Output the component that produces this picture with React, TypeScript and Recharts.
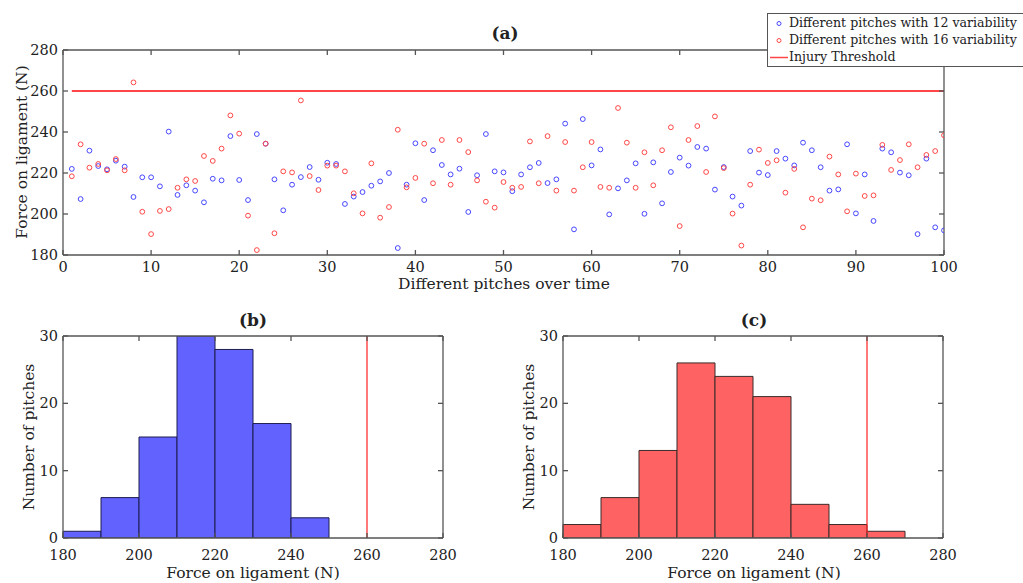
import React from "react";
import {
  ComposedChart,
  Scatter,
  Bar,
  Line,
  XAxis,
  YAxis,
  ReferenceLine,
} from "recharts";

// force per pitch (N)
const pitches12 = [
  222, 207.3, 230.9, 223.4, 221.8, 226, 223.1, 208.3, 217.9, 217.9,
  213.5, 240.2, 209.3, 214, 211.4, 205.7, 217.2, 216.4, 238, 216.6,
  206.8, 239, 234.3, 216.9, 201.8, 214.3, 218, 222.9, 216.7, 225,
  224.4, 204.9, 208.5, 210.7, 213.8, 215.9, 220, 183.4, 214.3, 234.5,
  206.8, 231.1, 223.9, 219.3, 222.1, 201, 218.9, 239, 220.8, 220.3,
  211.1, 219.3, 222.8, 224.9, 215.1, 216.9, 244.1, 192.5, 246.3, 223.7,
  231.5, 199.8, 212.5, 216.4, 224.7, 200.1, 225.2, 205.2, 220.5, 227.5,
  223.6, 232.7, 231.9, 211.9, 222.9, 208.5, 204.1, 230.7, 220.2, 219,
  230.7, 227, 223.7, 234.8, 231.1, 222.8, 211.4, 212, 234, 200.3,
  219.3, 196.6, 231.9, 230.1, 220.2, 218.9, 190.2, 227, 193.5, 192,
];

const pitches16 = [
  218.4, 234, 222.6, 224.4, 221.3, 226.8, 221.3, 264.2, 201.1, 190.2,
  201.5, 202.4, 212.8, 216.9, 216.1, 228.3, 225.9, 231.9, 248.1, 239.2,
  199.2, 182.4, 234.3, 190.6, 220.8, 220.3, 255.4, 218.5, 211.7, 223.6,
  223.6, 220.8, 210.1, 200.3, 224.7, 198.2, 203.4, 241.1, 213, 217.6,
  234.3, 215, 236.1, 214.3, 236.1, 230.2, 216.4, 206, 203.1, 215.6,
  212.8, 213.2, 235.4, 215, 238, 211.4, 235.1, 211.4, 222.8, 235.1,
  213.2, 212.8, 251.7, 234.8, 212.8, 230.1, 214, 231.1, 242.3, 194.1,
  236.1, 242.9, 220.5, 247.6, 222.4, 200.2, 184.6, 214.3, 231.4, 224.9,
  226.2, 210.4, 222, 193.5, 207.5, 206.7, 228, 219.3, 201.3, 219.7,
  208.8, 209.1, 233.7, 221.5, 226.3, 234, 222.8, 228.8, 230.7, 238.4,
];

const threshold = 260;
const thresholdFrom = 1;
const thresholdTo = 100;

// histogram bins (lower edges, N) and counts
const binStarts = [180, 190, 200, 210, 220, 230, 240, 250, 260, 270];
const binWidth = 10;
const counts12 = [1, 6, 15, 30, 28, 17, 3, 0, 0, 0];
const counts16 = [2, 6, 13, 26, 24, 21, 5, 2, 1, 0];

const pitchTicks = [0, 10, 20, 30, 40, 50, 60, 70, 80, 90, 100];
const forceTicks = [180, 200, 220, 240, 260, 280];
const histTicks = [180, 200, 220, 240, 260, 280];
const countTicks = [0, 10, 20, 30];

const FONT = "'DejaVu Serif', serif";
const INK = "#222";
const AXIS = "#555";
const BLUE = "#4646ff";
const RED = "#ff4646";

const tickStyle = { fill: INK, fontSize: 14.5, fontFamily: FONT };
const axisLine = { stroke: AXIS, strokeWidth: 1.3 };
const tickLine = { stroke: AXIS, strokeWidth: 1.3 };
const noLabel = () => "";

const blueData = pitches12.map((v, i) => ({ x: i + 1, y: v }));
const redData = pitches16.map((v, i) => ({ x: i + 1, y: v }));

const ring = (color: string) => (p: any) =>
  <circle cx={p.cx} cy={p.cy} r={2.4} fill="none" stroke={color} strokeWidth={1} />;
const nothing = () => <g />;

function Text(props: { x: number; y: number; text: string; bold?: boolean; rotate?: boolean; size?: number }) {
  const { x, y, text, bold, rotate, size = 15.5 } = props;
  return (
    <div
      style={{
        position: "absolute",
        left: x,
        top: y,
        transform: `translate(-50%, -50%)${rotate ? " rotate(-90deg)" : ""}`,
        whiteSpace: "nowrap",
        fontFamily: FONT,
        fontSize: size,
        fontWeight: bold ? "bold" : "normal",
        color: INK,
        lineHeight: 1,
      }}
    >
      {text}
    </div>
  );
}

function Histogram(props: { counts: number[]; fill: string; edge: string; width: number; right: number }) {
  const data = binStarts.map((b, i) => ({
    bin: `${b}-${b + binWidth}`,
    mid: b + binWidth / 2,
    n: props.counts[i],
  }));
  return (
    <ComposedChart
      width={props.width}
      height={283}
      data={data}
      barCategoryGap={0}
      margin={{ top: 35, right: props.right - 1, bottom: 15, left: 23 }}
    >
      <XAxis dataKey="bin" hide height={0} />
      <XAxis
        xAxisId="num"
        dataKey="mid"
        type="number"
        domain={[180, 280]}
        ticks={histTicks}
        interval={0}
        allowDataOverflow
        height={30}
        tick={tickStyle}
        axisLine={axisLine}
        tickLine={tickLine}
        tickSize={-5}
        tickMargin={17}
      />
      <XAxis
        xAxisId="top"
        dataKey="mid"
        orientation="top"
        type="number"
        domain={[180, 280]}
        ticks={histTicks}
        interval={0}
        allowDataOverflow
        height={1}
        tickFormatter={noLabel}
        axisLine={axisLine}
        tickLine={tickLine}
        tickSize={-5}
      />
      <YAxis
        domain={[0, 30]}
        ticks={countTicks}
        interval={0}
        allowDataOverflow
        width={40}
        tick={tickStyle}
        axisLine={axisLine}
        tickLine={tickLine}
        tickSize={-5}
        tickMargin={10}
      />
      <YAxis
        yAxisId="right"
        orientation="right"
        domain={[0, 30]}
        ticks={countTicks}
        interval={0}
        allowDataOverflow
        width={1}
        tickFormatter={noLabel}
        axisLine={axisLine}
        tickLine={tickLine}
        tickSize={-5}
      />
      <Bar dataKey="n" fill={props.fill} stroke={props.edge} strokeWidth={1} isAnimationActive={false} />
      <Line xAxisId="num" dataKey="n" stroke="none" dot={false} activeDot={false} isAnimationActive={false} />
      <Line xAxisId="top" yAxisId="right" dataKey="n" stroke="none" dot={false} activeDot={false} isAnimationActive={false} />
      <ReferenceLine xAxisId="num" x={threshold} stroke="#ff2020" strokeWidth={1.2} />
    </ComposedChart>
  );
}

export default function App() {
  return (
    <div
      style={{
        position: "absolute",
        left: 0,
        top: 0,
        width: 1023,
        height: 583,
        background: "#fff",
        overflow: "hidden",
      }}
    >
      <div style={{ position: "absolute", left: 0, top: 0 }}>
        <ComposedChart width={1023} height={300} margin={{ top: 49, right: 78, bottom: 15, left: 23 }}>
          <XAxis
            type="number"
            dataKey="x"
            domain={[0, 100]}
            ticks={pitchTicks}
            interval={0}
            allowDataOverflow
            height={30}
            tick={tickStyle}
            axisLine={axisLine}
            tickLine={tickLine}
            tickSize={-5}
            tickMargin={12}
          />
          <XAxis
            xAxisId="top"
            orientation="top"
            type="number"
            dataKey="x"
            domain={[0, 100]}
            ticks={pitchTicks}
            interval={0}
            allowDataOverflow
            height={1}
            tickFormatter={noLabel}
            axisLine={axisLine}
            tickLine={tickLine}
            tickSize={-5}
          />
          <YAxis
            type="number"
            dataKey="y"
            domain={[180, 280]}
            ticks={forceTicks}
            interval={0}
            allowDataOverflow
            width={40}
            tick={tickStyle}
            axisLine={axisLine}
            tickLine={tickLine}
            tickSize={-5}
            tickMargin={10}
          />
          <YAxis
            yAxisId="right"
            orientation="right"
            type="number"
            dataKey="y"
            domain={[180, 280]}
            ticks={forceTicks}
            interval={0}
            allowDataOverflow
            width={1}
            tickFormatter={noLabel}
            axisLine={axisLine}
            tickLine={tickLine}
            tickSize={-5}
          />
          <ReferenceLine
            segment={[
              { x: thresholdFrom, y: threshold },
              { x: thresholdTo, y: threshold },
            ]}
            stroke={RED}
            strokeWidth={2}
          />
          <Scatter data={blueData} shape={ring(BLUE)} isAnimationActive={false} />
          <Scatter data={redData} shape={ring(RED)} isAnimationActive={false} />
          <Scatter xAxisId="top" yAxisId="right" data={blueData} shape={nothing} isAnimationActive={false} />
        </ComposedChart>
      </div>

      <div style={{ position: "absolute", left: 0, top: 300 }}>
        <Histogram counts={counts12} fill="#6262ff" edge="#1d1d50" width={500} right={57} />
      </div>
      <div style={{ position: "absolute", left: 500, top: 300 }}>
        <Histogram counts={counts16} fill="#ff6262" edge="#3a2a2a" width={523} right={80} />
      </div>

      <Text x={505} y={33} text="(a)" bold size={17} />
      <Text x={504} y={285} text="Different pitches over time" />
      <Text x={23} y={152} text="Force on ligament (N)" rotate />

      <Text x={253} y={320} text="(b)" bold size={17} />
      <Text x={253} y={574} text="Force on ligament (N)" />
      <Text x={30} y={437} text="Number of pitches" rotate />

      <Text x={754} y={320} text="(c)" bold size={17} />
      <Text x={754} y={574} text="Force on ligament (N)" />
      <Text x={530} y={437} text="Number of pitches" rotate />

      <div
        style={{
          position: "absolute",
          left: 767,
          top: 13,
          width: 270,
          height: 52,
          border: `1.3px solid ${AXIS}`,
          background: "#fff",
          fontFamily: FONT,
          fontSize: 12.6,
          color: INK,
        }}
      >
        {[
          { label: "Different pitches with 12 variability", color: BLUE, kind: "dot" },
          { label: "Different pitches with 16 variability", color: RED, kind: "dot" },
          { label: "Injury Threshold", color: RED, kind: "line" },
        ].map((e, i) => (
          <div
            key={i}
            style={{ position: "absolute", left: 0, top: 0.5 + i * 17, height: 17, display: "flex", alignItems: "center" }}
          >
            <svg width={21} height={17}>
              {e.kind === "dot" ? (
                <circle cx={11} cy={8.5} r={2} fill="none" stroke={e.color} strokeWidth={1} />
              ) : (
                <line x1={2} x2={20} y1={8.5} y2={8.5} stroke={e.color} strokeWidth={1.5} />
              )}
            </svg>
            <span style={{ whiteSpace: "nowrap", lineHeight: 1 }}>{e.label}</span>
          </div>
        ))}
      </div>
    </div>
  );
}
